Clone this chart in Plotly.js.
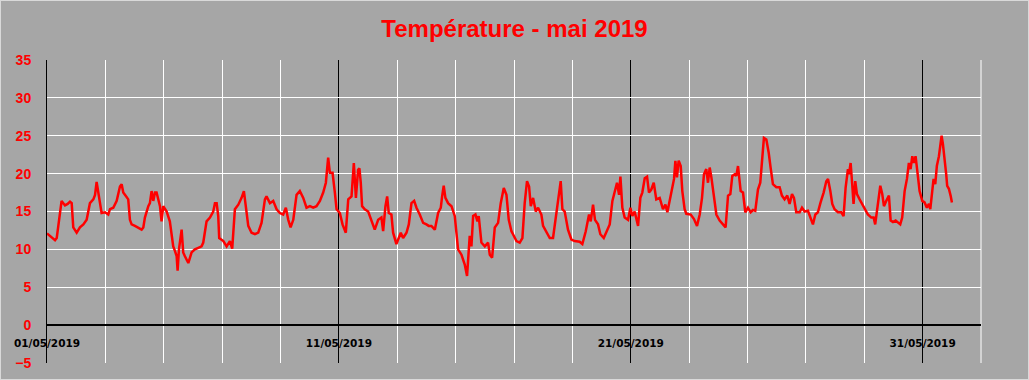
<!DOCTYPE html>
<html>
<head>
<meta charset="utf-8">
<script src="https://cdn.plot.ly/plotly-3.0.1.min.js"></script>
<style>
html,body{margin:0;padding:0;background:#A6A6A6;}
#chart{width:1027px;height:378px;border:1px solid #D9D9D9;}
</style>
</head>
<body>
<div id="chart"></div>
<script>
// Hours elapsed since 01/05/2019 00:00 and the temperature read at that time (°C)
const hours = [
0,3,6.6,8,9.3,12,14.8,17,18.9,20.3,21.6,24.4,27.1,29.9,32.6,35.3,38.1,39.5,40.8,42.2,43.6,44.9,47.7,50.4,51.8,54.5,57.3,60,61.4,62.7,64.1,66.8,68.2,69.6,72.3,75.1,77.8,79.2,80.5,83.3,84.6,86,87.4,88.8,90.1,92.9,94.2,95.6,98.4,101,103.8,105.2,106.6,107.4,108.5,110.7,112,113.4,116.2,118.9,121.6,124.4,127.1,
128.5,131.2,134,136.7,138.1,139.5,140.8,141.6,145,147.7,150.4,152.3,154.5,157.3,160,161.9,163.3,165.5,168.2,171,173.7,176.4,179.2,180.5,183.3,186,188.8,191.5,194.2,196.4,198.4,200.3,202.5,205.2,207.9,210.7,213.4,216.2,218.9,221.6,224.4,227.1,229.3,231.2,232.6,234.8,236.7,238.1,240.8,243,245.7,247.7,250.4,252.3,254,
255.8,256.9,258,259.1,261.3,264.1,266.8,269.5,272.3,275,276.4,278.3,279.7,281,283.2,284.6,287.3,288.7,290.9,292.8,295.6,297.5,299.7,301.9,303.8,306.5,309.3,312,313.9,316.1,318.9,321.6,323.8,324.9,326.2,327.6,329.8,332.6,335.3,338,340.8,343.5,345.4,347.6,349,350.4,352.3,353.9,355,357.2,360,362.7,364.1,366,368.2,370.9,373.1,375.6,377.8,379.7,381.9,
383.2,386,388.7,390.9,392.8,394.7,396.4,397.8,399.7,401.9,403.8,406.5,407.9,410.6,413.4,416.1,418.9,421,422.4,423.8,425.7,428.4,431.2,433.9,438,440.2,443,445.7,447.1,449,450.6,453.1,455,457.8,460.5,462.7,464.9,466.8,468.7,470.4,471.5,473.1,475,477.8,479.7,481.3,483.2,486,487.9,489.5,491.5,493.4,495,496.9,498.9,501,503.8,506.5,
508.5,510.1,512,513.9,515.6,516.7,518,519.4,521.1,522.4,524.3,525.7,529.3,532,534.5,536.7,538.6,540.2,542.1,543.5,544.9,546.3,548.4,550.4,553.1,555.8,558,560,561.9,563.5,565.4,566.8,568.2,570.4,572.3,574.2,576.4,578.6,580.5,582.4,584.6,586.5,588.2,589.5,591.5,593.4,595,596.9,599.7,602.4,604.3,606.5,608.7,610.6,612.6,614.2,616.1,618.9,620.8,623,625.7,627.9,629.8,631.8,633.9,
636.1,638.6,640.8,642.2,644.1,645.7,647.6,650.4,653.1,655,656.7,658.6,659.4,660.8,662.1,663.2,664.6,666,668.2,670.4,672.3,675,677.8,679.7,681,683.2,685.2,686.8,688.2,690.1,692.3,693.7,695.6,697.8,699.7,701.6,703.2,705.2,707.1,708.7,710.1,711.5,712.8,714.2,715.6,717.5,719.7,721.6,723.5,725.2,726.3,727.6,729,730.4,731.7,733.4,734.5,735.6,736.7,738,739.4,740.2,741.6,743,744.1
];
const temps = [
12.1,11.7,11.2,11.5,13.1,16.4,15.8,16.0,16.3,16.1,12.9,12.2,12.9,13.3,13.9,16.1,16.6,17.2,18.9,17.5,16.4,14.8,14.9,14.6,15.3,15.5,16.4,18.3,18.6,17.5,17.2,16.6,13.9,13.3,13.1,12.9,12.6,12.9,14.2,15.7,16.1,17.7,16.4,17.5,17.5,15.7,13.7,15.7,15.0,13.7,10.4,9.8,9.1,7.2,10.0,12.6,9.6,9.1,8.2,9.6,10.0,10.2,10.4,
10.9,13.7,14.2,15.0,16.1,16.1,14.4,11.5,11.1,10.4,11.1,10.1,15.3,15.9,16.8,17.7,15.9,13.1,12.2,12.0,12.2,13.5,16.6,17.0,16.1,16.4,15.3,14.8,14.6,15.5,13.9,12.9,13.9,17.2,17.7,16.8,15.5,15.7,15.5,15.7,16.4,17.5,18.8,22.1,20.1,20.1,17.5,15.3,14.8,13.3,12.2,16.6,17.0,21.4,16.8,
20.5,20.7,18.8,15.7,15.3,15.0,13.7,12.6,13.9,14.2,12.4,15.7,17.0,14.8,14.6,12.2,10.7,11.3,12.2,11.5,12.2,13.3,16.1,16.4,15.5,14.6,13.5,13.3,13.1,13.1,12.6,14.8,15.5,17.0,18.4,16.8,16.1,15.7,14.4,10.0,9.3,8.0,6.5,11.8,10.4,14.4,14.6,13.7,14.4,10.9,10.4,10.9,9.3,8.9,12.9,13.5,16.1,18.1,17.2,13.9,12.4,
12.0,11.1,10.9,11.5,16.1,19.0,18.3,15.7,16.8,15.0,15.5,14.6,13.1,12.4,11.5,11.5,15.0,17.5,19.0,15.3,15.0,12.6,11.3,11.1,11.0,10.7,12.4,14.6,13.7,15.9,13.9,13.3,12.0,11.5,12.6,13.3,16.4,17.7,18.8,17.2,19.6,15.5,14.2,13.9,15.5,14.4,15.0,13.1,16.8,17.5,19.4,19.6,17.5,17.9,18.8,16.6,16.8,15.3,
15.9,14.9,16.4,17.7,19.3,21.7,19.5,21.7,21.0,17.7,15.3,14.7,14.6,14.0,13.1,14.6,16.8,19.9,20.6,18.8,20.8,19.5,17.1,14.6,13.8,13.3,12.9,17.1,17.3,19.7,19.9,19.7,21.0,17.7,17.5,14.9,15.5,14.9,15.2,15.1,17.9,18.8,21.9,24.7,24.5,22.8,20.8,18.6,18.2,18.2,17.1,16.6,17.1,16.0,17.3,16.8,14.9,14.9,15.5,15.0,15.1,14.0,13.3,14.6,14.9,
16.2,17.5,19.0,19.3,17.7,16.0,15.3,14.9,14.9,14.4,18.2,20.6,19.9,21.4,18.6,16.0,19.0,17.3,16.6,16.0,15.3,14.6,14.2,14.2,13.3,15.7,18.4,17.3,15.7,16.4,17.1,13.8,13.6,13.8,13.6,13.3,14.2,17.7,19.3,21.4,20.6,22.3,21.4,22.3,20.4,17.7,16.4,16.2,15.5,16.0,15.3,17.7,19.3,18.6,21.0,22.3,23.6,25.0,23.9,22.3,19.9,18.4,18.0,17.1,16.2
];
const labelDates = ['2019-05-01','2019-05-11','2019-05-21','2019-05-31'];
const labelTexts = ['01/05/2019','11/05/2019','21/05/2019','31/05/2019'];
const yTicks = [-5,0,5,10,15,20,25,30,35];
const titleText = 'Température - mai 2019';

const start = Date.UTC(2019,4,1);
const xs = hours.map(h => start + h*3600000);

const trace = {
  x: xs, y: temps, type: 'scatter', mode: 'lines',
  line: {color: '#FF0000', width: 2.5},
  hoverinfo: 'skip'
};

const layout = {
  width: 1027, height: 378,
  paper_bgcolor: '#A6A6A6', plot_bgcolor: '#A6A6A6',
  margin: {l: 46, r: 47, t: 59, b: 16},
  showlegend: false,
  title: {
    text: titleText,
    font: {family: 'Liberation Sans, Arial, sans-serif', size: 24, color: '#FF0000', weight: 'bold'},
    x: 0.5, xanchor: 'center', y: 0.928, yanchor: 'middle', yref: 'container'
  },
  xaxis: {
    type: 'date',
    range: ['2019-05-01', '2019-06-02'],
    anchor: 'free', position: 0.125,
    tickmode: 'array', tickvals: labelDates, ticktext: labelTexts,
    ticks: '', ticklabelstandoff: 10,
    tickfont: {family: 'DejaVu Sans, sans-serif', size: 10.5, color: '#000000', weight: 'bold'},
    showgrid: true, gridcolor: '#000000', gridwidth: 1,
    minor: {tick0: '2019-05-01', dtick: 172800000, showgrid: true, gridcolor: '#FFFFFF', gridwidth: 1},
    showline: false, zeroline: false, fixedrange: true
  },
  yaxis: {
    range: [-5, 35], tickmode: 'array', tickvals: yTicks,
    ticks: '', ticklabelstandoff: 12,
    tickfont: {family: 'Liberation Sans, Arial, sans-serif', size: 14, color: '#FF0000', weight: 'bold'},
    showgrid: true, gridcolor: '#FFFFFF', gridwidth: 1,
    zeroline: true, zerolinecolor: '#000000', zerolinewidth: 2,
    showline: true, linecolor: '#000000', linewidth: 1,
    fixedrange: true
  },
  shapes: [
    {type: 'line', xref: 'paper', yref: 'paper', x0: 1, x1: 1, y0: 0, y1: 1, line: {color: '#FFFFFF', width: 1}, layer: 'below'}
  ]
};

Plotly.newPlot('chart', [trace], layout, {displayModeBar: false, staticPlot: true});
</script>
</body>
</html>
